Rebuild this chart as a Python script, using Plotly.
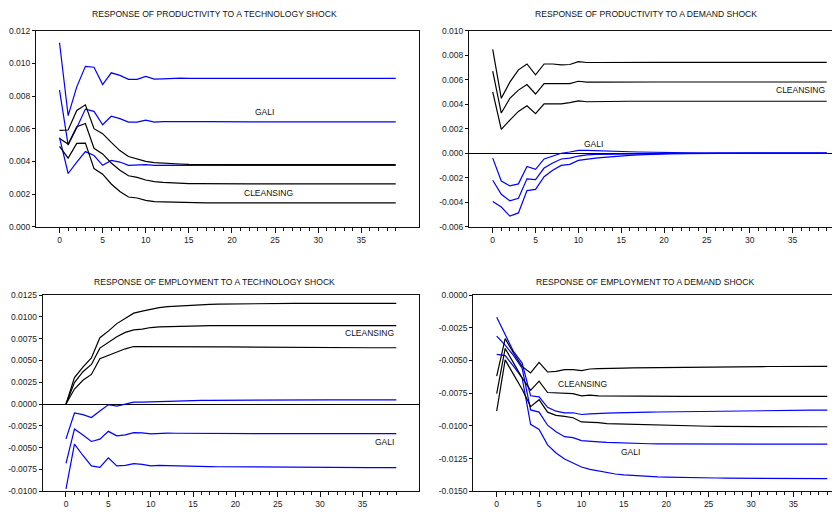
import plotly.graph_objects as go

periods = list(range(40))

# ---- Panel 1: productivity response to a technology shock ----
p1_gali_hi = [0.01126, 0.0068, 0.00856, 0.00982, 0.00976, 0.0087, 0.00942, 0.00926, 0.00902, 0.00902,
              0.0092, 0.00904, 0.00905, 0.00908, 0.00909, 0.00908, 0.00908, 0.00908, 0.00908, 0.00908,
              0.00908, 0.00908, 0.00908, 0.00908, 0.00908, 0.00908, 0.00908, 0.00908, 0.00908, 0.00908,
              0.00908, 0.00908, 0.00908, 0.00908, 0.00908, 0.00908, 0.00908, 0.00908, 0.00908, 0.00908]
p1_gali_mid = [0.00836, 0.005, 0.00606, 0.0072, 0.00706, 0.00624, 0.00676, 0.00662, 0.0064, 0.0064,
               0.00652, 0.0064, 0.00643, 0.00644, 0.00644, 0.00643, 0.00643, 0.00643, 0.00642, 0.00642,
               0.00642, 0.00642, 0.00642, 0.00642, 0.00642, 0.00642, 0.00642, 0.00642, 0.00642, 0.00642,
               0.00642, 0.00642, 0.00642, 0.00642, 0.00642, 0.00642, 0.00642, 0.00642, 0.00642, 0.00642]
p1_gali_lo = [0.00546, 0.00326, 0.00396, 0.0046, 0.00436, 0.00376, 0.00406, 0.00396, 0.00376, 0.00378,
              0.0038, 0.00376, 0.00377, 0.00378, 0.00377, 0.00377, 0.00376, 0.00376, 0.00376, 0.00376,
              0.00375, 0.00375, 0.00375, 0.00375, 0.00375, 0.00375, 0.00375, 0.00375, 0.00375, 0.00375,
              0.00375, 0.00375, 0.00375, 0.00375, 0.00375, 0.00375, 0.00375, 0.00375, 0.00375, 0.00375]
p1_cl_hi = [0.0059, 0.00592, 0.00712, 0.00746, 0.006, 0.0057, 0.00516, 0.00466, 0.0043, 0.00416,
            0.004, 0.00392, 0.00388, 0.00386, 0.00384, 0.00382, 0.00381, 0.00381, 0.0038, 0.0038,
            0.0038, 0.0038, 0.0038, 0.0038, 0.0038, 0.0038, 0.0038, 0.0038, 0.0038, 0.0038,
            0.0038, 0.0038, 0.0038, 0.0038, 0.0038, 0.0038, 0.0038, 0.0038, 0.0038, 0.0038]
p1_cl_mid = [0.0054, 0.00506, 0.00612, 0.00632, 0.0048, 0.00446, 0.0039, 0.00346, 0.00312, 0.00302,
             0.00286, 0.00276, 0.00272, 0.00268, 0.00266, 0.00264, 0.00264, 0.00263, 0.00263, 0.00263,
             0.00262, 0.00262, 0.00262, 0.00262, 0.00262, 0.00262, 0.00262, 0.00262, 0.00262, 0.00262,
             0.00262, 0.00262, 0.00262, 0.00262, 0.00262, 0.00262, 0.00262, 0.00262, 0.00262, 0.00262]
p1_cl_lo = [0.00492, 0.0042, 0.0051, 0.00512, 0.00356, 0.00322, 0.00262, 0.00216, 0.00182, 0.00176,
            0.00162, 0.00154, 0.00152, 0.0015, 0.00148, 0.00147, 0.00147, 0.00146, 0.00146, 0.00146,
            0.00146, 0.00146, 0.00146, 0.00146, 0.00146, 0.00146, 0.00146, 0.00146, 0.00146, 0.00146,
            0.00146, 0.00146, 0.00146, 0.00146, 0.00146, 0.00146, 0.00146, 0.00146, 0.00146, 0.00146]

# ---- Panel 2: productivity response to a demand shock ----
p2_cl_hi = [0.00848, 0.00448, 0.0058, 0.0068, 0.00728, 0.0064, 0.00728, 0.00728, 0.0072, 0.00724,
            0.00747, 0.0074, 0.0074, 0.00741, 0.00741, 0.00741, 0.00741, 0.00741, 0.00741, 0.00741,
            0.00741, 0.00741, 0.00741, 0.00741, 0.00741, 0.00741, 0.00741, 0.00741, 0.00741, 0.00741,
            0.00741, 0.00741, 0.00741, 0.00741, 0.00741, 0.00741, 0.00741, 0.00741, 0.00741, 0.00741]
p2_cl_mid = [0.0067, 0.00328, 0.00448, 0.00515, 0.0056, 0.00483, 0.00568, 0.00568, 0.00563, 0.00568,
             0.00587, 0.0058, 0.0058, 0.00581, 0.00581, 0.00581, 0.00581, 0.00581, 0.00581, 0.00581,
             0.00581, 0.00581, 0.00581, 0.00581, 0.00581, 0.00581, 0.00581, 0.00581, 0.00581, 0.00581,
             0.00581, 0.00581, 0.00581, 0.00581, 0.00581, 0.00581, 0.00581, 0.00581, 0.00581, 0.00581]
p2_cl_lo = [0.00501, 0.00195, 0.0027, 0.00341, 0.00387, 0.00323, 0.00403, 0.00406, 0.00403, 0.00413,
            0.00427, 0.0042, 0.00422, 0.00423, 0.00424, 0.00424, 0.00424, 0.00424, 0.00424, 0.00424,
            0.00424, 0.00424, 0.00424, 0.00424, 0.00424, 0.00424, 0.00424, 0.00424, 0.00424, 0.00424,
            0.00424, 0.00424, 0.00424, 0.00424, 0.00424, 0.00424, 0.00424, 0.00424, 0.00424, 0.00424]
p2_gali_hi = [-0.0004, -0.00227, -0.00267, -0.0025, -0.00108, -0.00132, -0.00047, -0.00023, 0.0, 0.0001,
              0.00023, 0.00023, 0.00022, 0.0002, 0.00018, 0.00015, 0.00012, 0.0001, 0.00008, 0.00006,
              0.00004, 0.00003, 0.00002, 0.00001, 0.00001, 0.0, 0.0, 0.0, 0.0, 0.0,
              0.0, 0.0, 0.0, 0.0, 0.0, 0.0, 0.0, 0.0, 0.0, 0.0]
p2_gali_mid = [-0.0022, -0.00335, -0.00388, -0.00367, -0.00209, -0.00215, -0.00121, -0.00079, -0.00047, -0.0004,
               -0.00023, -0.00013, -0.0001, -0.00009, -0.00007, -0.00005, -0.00004, -0.00003, -0.00002, -0.00001,
               -0.00001, 0.0, 0.0, 0.0, 0.0, 0.0, 0.0, 0.0, 0.0, 0.0,
               0.0, 0.0, 0.0, 0.0, 0.0, 0.0, 0.0, 0.0, 0.0, 0.0]
p2_gali_lo = [-0.00393, -0.00439, -0.00513, -0.00487, -0.00305, -0.00295, -0.00192, -0.00139, -0.00099, -0.00091,
              -0.00059, -0.00048, -0.0004, -0.00034, -0.00027, -0.00022, -0.00018, -0.00014, -0.0001, -0.00008,
              -0.00006, -0.00004, -0.00003, -0.00002, -0.00001, -0.00001, 0.0, 0.0, 0.0, 0.0,
              0.0, 0.0, 0.0, 0.0, 0.0, 0.0, 0.0, 0.0, 0.0, 0.0]

# ---- Panel 3: employment response to a technology shock ----
p3_cl_hi = [0.0, 0.00303, 0.00424, 0.00529, 0.00762, 0.00837, 0.00923, 0.00987, 0.01043, 0.01066,
            0.01088, 0.01107, 0.01119, 0.01125, 0.0113, 0.01137, 0.0114, 0.01143, 0.01146, 0.01148,
            0.0115, 0.01151, 0.01152, 0.01153, 0.01154, 0.01155, 0.01155, 0.01156, 0.01156, 0.01156,
            0.01156, 0.01156, 0.01156, 0.01156, 0.01156, 0.01156, 0.01156, 0.01156, 0.01156, 0.01156]
p3_cl_mid = [0.0, 0.00247, 0.00371, 0.00454, 0.00642, 0.00709, 0.00773, 0.00822, 0.00852, 0.00859,
             0.00878, 0.00886, 0.0089, 0.00893, 0.00895, 0.00897, 0.00898, 0.00899, 0.009, 0.009,
             0.009, 0.00901, 0.00901, 0.00901, 0.00901, 0.00901, 0.00901, 0.00901, 0.00901, 0.00901,
             0.00901, 0.00901, 0.00901, 0.00901, 0.00901, 0.00901, 0.00901, 0.00901, 0.00901, 0.00901]
p3_cl_lo = [0.0, 0.00172, 0.00273, 0.0034, 0.0052, 0.00559, 0.00604, 0.00634, 0.0066, 0.0066,
            0.00664, 0.00664, 0.00663, 0.00662, 0.00661, 0.0066, 0.00658, 0.00657, 0.00656, 0.00655,
            0.00654, 0.00653, 0.00652, 0.00651, 0.0065, 0.0065, 0.00649, 0.00649, 0.00648, 0.00648,
            0.00647, 0.00647, 0.00647, 0.00646, 0.00646, 0.00646, 0.00646, 0.00646, 0.00646, 0.00646]
p3_gali_hi = [-0.00399, -0.00102, -0.00121, -0.00155, -0.0008, -0.00008, -0.00023, 0.0, 0.00023, 0.00023,
              0.00026, 0.00034, 0.00038, 0.00039, 0.0004, 0.00041, 0.00042, 0.00043, 0.00044, 0.00045,
              0.00045, 0.00046, 0.00046, 0.00047, 0.00047, 0.00047, 0.00048, 0.00048, 0.00048, 0.00048,
              0.00049, 0.00049, 0.00049, 0.00049, 0.00049, 0.00049, 0.00049, 0.00049, 0.00049, 0.00049]
p3_gali_mid = [-0.0068, -0.00286, -0.00354, -0.00429, -0.00403, -0.00313, -0.00365, -0.00354, -0.00328, -0.00331,
               -0.00343, -0.00335, -0.00333, -0.00335, -0.00336, -0.00336, -0.00337, -0.00337, -0.00338, -0.00338,
               -0.00338, -0.00338, -0.00339, -0.00339, -0.00339, -0.00339, -0.00339, -0.00339, -0.00339, -0.00339,
               -0.00339, -0.00339, -0.00339, -0.00339, -0.00339, -0.00339, -0.00339, -0.00339, -0.00339, -0.00339]
p3_gali_lo = [-0.00974, -0.00459, -0.0059, -0.0071, -0.00726, -0.00617, -0.0071, -0.00703, -0.00684, -0.00692,
              -0.0071, -0.00703, -0.00706, -0.0071, -0.00712, -0.00714, -0.00716, -0.00718, -0.00719, -0.0072,
              -0.00721, -0.00722, -0.00723, -0.00724, -0.00725, -0.00725, -0.00726, -0.00726, -0.00727, -0.00727,
              -0.00728, -0.00728, -0.00728, -0.00729, -0.00729, -0.00729, -0.00729, -0.00729, -0.00729, -0.00729]

# ---- Panel 4: employment response to a demand shock ----
p4_cl_hi = [-0.0062, -0.00333, -0.00445, -0.00545, -0.00595, -0.00515, -0.00588, -0.00583, -0.0057, -0.0057,
            -0.00578, -0.00565, -0.00563, -0.0056, -0.0056, -0.00558, -0.00557, -0.00556, -0.00555, -0.00554,
            -0.00553, -0.00552, -0.00551, -0.0055, -0.0055, -0.00549, -0.00549, -0.00548, -0.00548, -0.00547,
            -0.00547, -0.00546, -0.00546, -0.00546, -0.00545, -0.00545, -0.00545, -0.00545, -0.00545, -0.00545]
p4_cl_mid = [-0.00753, -0.00408, -0.0052, -0.00633, -0.00728, -0.00658, -0.00745, -0.00748, -0.0075, -0.00753,
             -0.0077, -0.00765, -0.0077, -0.00771, -0.00772, -0.00773, -0.00773, -0.00774, -0.00774, -0.00774,
             -0.00775, -0.00775, -0.00775, -0.00775, -0.00775, -0.00775, -0.00775, -0.00775, -0.00775, -0.00775,
             -0.00775, -0.00775, -0.00775, -0.00775, -0.00775, -0.00775, -0.00775, -0.00775, -0.00775, -0.00775]
p4_cl_lo = [-0.00888, -0.00495, -0.00608, -0.0072, -0.00853, -0.008, -0.00895, -0.0092, -0.00928, -0.00938,
            -0.0097, -0.0097, -0.00975, -0.00983, -0.00985, -0.00988, -0.0099, -0.00992, -0.00994, -0.00996,
            -0.00998, -0.00999, -0.01, -0.01001, -0.01002, -0.01003, -0.01004, -0.01004, -0.01005, -0.01005,
            -0.01006, -0.01006, -0.01006, -0.01007, -0.01007, -0.01007, -0.01007, -0.01007, -0.01007, -0.01007]
p4_gali_hi = [-0.0017, -0.00308, -0.00433, -0.0052, -0.0077, -0.00778, -0.00858, -0.00888, -0.009, -0.009,
              -0.00913, -0.00908, -0.00903, -0.00902, -0.009, -0.009, -0.00898, -0.00897, -0.00895, -0.00894,
              -0.00893, -0.00892, -0.00891, -0.0089, -0.00889, -0.00888, -0.00887, -0.00886, -0.00885, -0.00884,
              -0.00884, -0.00883, -0.00883, -0.00882, -0.00882, -0.00881, -0.00881, -0.0088, -0.0088, -0.0088]
p4_gali_mid = [-0.00313, -0.00383, -0.00463, -0.00558, -0.00878, -0.00895, -0.00995, -0.01045, -0.01083, -0.0109,
               -0.01113, -0.0112, -0.01123, -0.01127, -0.0113, -0.01133, -0.01135, -0.01136, -0.01137, -0.01138,
               -0.01138, -0.01139, -0.01139, -0.0114, -0.0114, -0.0114, -0.0114, -0.0114, -0.0114, -0.0114,
               -0.0114, -0.0114, -0.0114, -0.0114, -0.0114, -0.0114, -0.0114, -0.0114, -0.0114, -0.0114]
p4_gali_lo = [-0.00453, -0.00463, -0.00545, -0.00633, -0.00988, -0.01028, -0.01145, -0.01208, -0.01253, -0.01283,
              -0.01315, -0.01333, -0.01345, -0.01358, -0.01368, -0.01375, -0.0138, -0.01384, -0.01387, -0.0139,
              -0.01392, -0.01394, -0.01395, -0.01396, -0.01397, -0.01398, -0.01399, -0.014, -0.014, -0.01401,
              -0.01401, -0.01402, -0.01402, -0.01402, -0.01403, -0.01403, -0.01403, -0.01403, -0.01403, -0.01403]

titles = ["RESPONSE OF PRODUCTIVITY TO A TECHNOLOGY SHOCK",
          "RESPONSE OF PRODUCTIVITY TO A DEMAND SHOCK",
          "RESPONSE OF EMPLOYMENT TO A TECHNOLOGY SHOCK",
          "RESPONSE OF EMPLOYMENT TO A DEMAND SHOCK"]

x_tick_vals = [0, 5, 10, 15, 20, 25, 30, 35]
x_tick_text = ["0", "5", "10", "15", "20", "25", "30", "35"]

y_ticks_p1 = [0.0, 0.002, 0.004, 0.006, 0.008, 0.010, 0.012]
y_text_p1 = ["0.000", "0.002", "0.004", "0.006", "0.008", "0.010", "0.012"]
y_ticks_p2 = [-0.006, -0.004, -0.002, 0.0, 0.002, 0.004, 0.006, 0.008, 0.010]
y_text_p2 = ["-0.006", "-0.004", "-0.002", "0.000", "0.002", "0.004", "0.006", "0.008", "0.010"]
y_ticks_p3 = [-0.01, -0.0075, -0.005, -0.0025, 0.0, 0.0025, 0.005, 0.0075, 0.01, 0.0125]
y_text_p3 = ["-0.0100", "-0.0075", "-0.0050", "-0.0025", "0.0000", "0.0025", "0.0050", "0.0075", "0.0100", "0.0125"]
y_ticks_p4 = [-0.015, -0.0125, -0.01, -0.0075, -0.005, -0.0025, 0.0]
y_text_p4 = ["-0.0150", "-0.0125", "-0.0100", "-0.0075", "-0.0050", "-0.0025", "0.0000"]

BLACK = "#000000"
BLUE = "#0000ff"
W, H = 840, 515
OFF = 8  # default page body margin shifts the figure by 8px
FONT = "Liberation Sans Narrow, Arial Narrow, Liberation Sans, Arial, sans-serif"
TICK_SIZE = 8.5
LABEL_SIZE = 8.5
TITLE_SIZE = 8.6

panels = [
    dict(series=[(p1_gali_hi, BLUE), (p1_gali_mid, BLUE), (p1_gali_lo, BLUE),
                 (p1_cl_hi, BLACK), (p1_cl_mid, BLACK), (p1_cl_lo, BLACK)],
         px=(36, 419), py=(26, 226), xr=[-2.73, 41.7], yr=[0.0, 0.012],
         yt=(y_ticks_p1, y_text_p1), box=True, zero=False,
         labels=[("GALI", 23.8, 0.00702, "center"), ("CLEANSING", 24.2, 0.00206, "center")],
         title_x=214, title_y=9),
    dict(series=[(p2_gali_hi, BLUE), (p2_gali_mid, BLUE), (p2_gali_lo, BLUE),
                 (p2_cl_hi, BLACK), (p2_cl_mid, BLACK), (p2_cl_lo, BLACK)],
         px=(469, 840), py=(26, 226), xr=[-2.77, 40.55], yr=[-0.006, 0.010],
         yt=(y_ticks_p2, y_text_p2), box=False, zero=True,
         labels=[("GALI", 11.8, 0.00074, "center"), ("CLEANSING", 39.0, 0.00514, "right")],
         title_x=645.5, title_y=9),
    dict(series=[(p3_gali_hi, BLUE), (p3_gali_mid, BLUE), (p3_gali_lo, BLUE),
                 (p3_cl_hi, BLACK), (p3_cl_mid, BLACK), (p3_cl_lo, BLACK)],
         px=(42.7, 419), py=(295.7, 495.7), xr=[-2.75, 41.68], yr=[-0.01, 0.0125],
         yt=(y_ticks_p3, y_text_p3), box=True, zero=True,
         labels=[("CLEANSING", 39.0, 0.00818, "right"), ("GALI", 39.0, -0.00436, "right")],
         title_x=214.7, title_y=282),
    dict(series=[(p4_gali_hi, BLUE), (p4_gali_mid, BLUE), (p4_gali_lo, BLUE),
                 (p4_cl_hi, BLACK), (p4_cl_mid, BLACK), (p4_cl_lo, BLACK)],
         px=(473.3, 840), py=(295.7, 495.7), xr=[-2.76, 40.5], yr=[-0.015, 0.0],
         yt=(y_ticks_p4, y_text_p4), box=False, zero=False,
         labels=[("CLEANSING", 10.07, -0.00683, "center"), ("GALI", 15.8, -0.01202, "center")],
         title_x=645.5, title_y=282),
]

fig = go.Figure()
annotations = []
for i, p in enumerate(panels, start=1):
    sfx = "" if i == 1 else str(i)
    xa, ya = "x" + sfx, "y" + sfx
    for vals, col in p["series"]:
        fig.add_trace(go.Scatter(x=periods, y=vals, mode="lines", xaxis=xa, yaxis=ya,
                                 line=dict(color=col, width=1.2), showlegend=False,
                                 hoverinfo="skip"))
    x0, x1 = p["px"][0] - OFF, p["px"][1] - OFF
    y0, y1 = p["py"][0] - OFF, p["py"][1] - OFF
    fig.layout["xaxis" + sfx] = dict(
        domain=[x0 / W, min(x1 / W, 1.0)], range=p["xr"], anchor=ya,
        showline=True, linecolor="#111111", linewidth=1, mirror=True,
        showgrid=False, zeroline=False,
        tickmode="array", tickvals=x_tick_vals, ticktext=x_tick_text,
        ticks="outside", ticklen=5, tickwidth=1, tickcolor="#111111",
        minor=dict(tickmode="array", tickvals=periods, ticks="outside", ticklen=3,
                   tickwidth=1, tickcolor="#111111", showgrid=False),
        tickfont=dict(family=FONT, size=TICK_SIZE, color="#222222"), fixedrange=True)
    fig.layout["yaxis" + sfx] = dict(
        domain=[1 - y1 / H, 1 - y0 / H], range=p["yr"], anchor=xa,
        showline=True, linecolor="#111111", linewidth=1, mirror=p["box"],
        showgrid=False, zeroline=p["zero"], zerolinecolor="#000000", zerolinewidth=1,
        tickmode="array", tickvals=p["yt"][0], ticktext=p["yt"][1],
        ticks="outside", ticklen=3, tickwidth=1, tickcolor="#111111",
        tickfont=dict(family=FONT, size=TICK_SIZE, color="#222222"), fixedrange=True)
    for text, lx, ly, anch in p["labels"]:
        annotations.append(dict(text=text, x=lx, y=ly, xref=xa, yref=ya, showarrow=False,
                                xanchor=anch, yanchor="middle",
                                font=dict(family=FONT, size=LABEL_SIZE, color="#111111")))
    annotations.append(dict(text=titles[i - 1], x=(p["title_x"] - OFF) / W,
                            y=1 - (p["title_y"] - OFF) / H,
                            xref="paper", yref="paper", showarrow=False,
                            xanchor="center", yanchor="middle",
                            font=dict(family=FONT, size=TITLE_SIZE, color="#111111")))

fig.update_layout(width=W, height=H, autosize=False,
                  margin=dict(l=0, r=0, t=0, b=0),
                  paper_bgcolor="white", plot_bgcolor="white",
                  annotations=annotations, showlegend=False)

fig.write_html("out.html")
